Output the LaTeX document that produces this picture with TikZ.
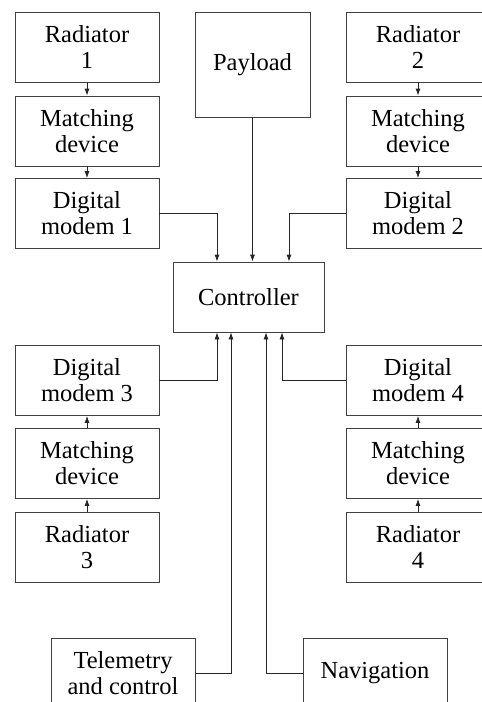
\documentclass[tikz,border=0pt]{standalone}
\usepackage{fontspec}
\setmainfont{Liberation Serif}
\usetikzlibrary{arrows.meta,calc}
\begin{document}
\begin{tikzpicture}[x=1pt,y=-1pt,
  blk/.style={draw=black!75,line width=0.8pt,minimum width=144pt,minimum height=70pt,inner sep=0pt,align=center,font=\fontsize{24.5}{26}\selectfont},
  conn/.style={draw=black!85,line width=0.8pt,-{Latex[length=7pt,width=5pt]}}]
\useasboundingbox (0,0) rectangle (482,702);
\clip (0,0) rectangle (482,702);
\fill[white] (0,0) rectangle (482,702);
% left column
\node[blk] (R1) at (87,47) {Radiator\\1};
\node[blk] (M1) at (87,131) {Matching\\device};
\node[blk] (D1) at (87,213.5) {Digital\\modem 1};
% right column
\node[blk] (R2) at (418,47) {Radiator\\2};
\node[blk] (M2) at (418,131) {Matching\\device};
\node[blk] (D2) at (418,213.5) {Digital\\modem 2};
% payload
\node[blk,minimum width=115pt,minimum height=105pt] (P) at (252.5,64.5) {Payload};
% controller
\node[blk,minimum width=151pt] (C) at (248.5,297) {Controller};
% lower left
\node[blk] (D3) at (87,380.5) {Digital\\modem 3};
\node[blk] (M3) at (87,463.5) {Matching\\device};
\node[blk] (R3) at (87,547) {Radiator\\3};
% lower right
\node[blk] (D4) at (418,380.5) {Digital\\modem 4};
\node[blk] (M4) at (418,463.5) {Matching\\device};
\node[blk] (R4) at (418,547) {Radiator\\4};
% bottom
\node[blk] (T) at (123,673) {Telemetry\\and control};
\node[blk] (N) at (375,673) {Navigation};
% coordinates on controller
\coordinate (c1) at ([xshift=-31.5pt]C.north);
\coordinate (c2) at ([xshift=40.5pt]C.north);
\coordinate (c3) at ([xshift=-31.5pt]C.south);
\coordinate (c4) at ([xshift=33.5pt]C.south);
\coordinate (c5) at ([xshift=-17.5pt]C.south);
\coordinate (c6) at ([xshift=17.5pt]C.south);
% connectors
\draw[conn] (R1) -- (M1);
\draw[conn] (M1) -- (D1);
\draw[conn] (R2) -- (M2);
\draw[conn] (M2) -- (D2);
\draw[conn] (R3) -- (M3);
\draw[conn] (M3) -- (D3);
\draw[conn] (R4) -- (M4);
\draw[conn] (M4) -- (D4);
\draw[conn] (D1.east) -| (c1);
\draw[conn] (P.south) -- (P.south |- C.north);
\draw[conn] (D2.west) -| (c2);
\draw[conn] (D3.east) -| (c3);
\draw[conn] (D4.west) -| (c4);
\draw[conn] (T.east) -| (c5);
\draw[conn] (N.west) -| (c6);
\end{tikzpicture}
\end{document}
